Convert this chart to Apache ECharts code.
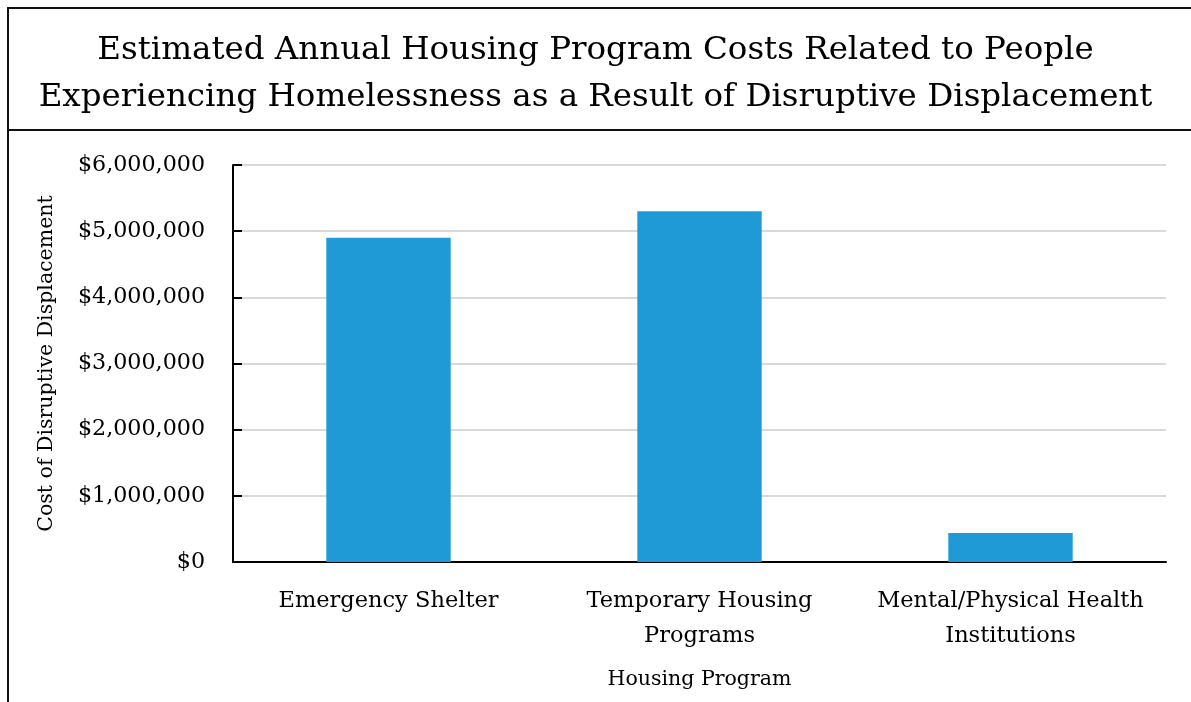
<!DOCTYPE html>
<html><head><meta charset="utf-8">
<script src="https://cdn.jsdelivr.net/npm/echarts@6/dist/echarts.min.js"></script>
<style>html,body{margin:0;padding:0;background:#fff}#c{width:1191px;height:702px}</style>
</head><body><div id="c"></div>
<script>
const titleLines = ['Estimated Annual Housing Program Costs Related to People', 'Experiencing Homelessness as a Result of Disruptive Displacement'];
const categories = ['Emergency Shelter', 'Temporary Housing\nPrograms', 'Mental/Physical Health\nInstitutions'];
const costs = [4900000, 5300000, 440000];
const yTicks = [0, 1000000, 2000000, 3000000, 4000000, 5000000, 6000000];
const yAxisName = 'Cost of Disruptive Displacement';
const xAxisName = 'Housing Program';

const FONT = 'DejaVu Serif';
const chart = echarts.init(document.getElementById('c'));
function money(v){ return '$' + String(v).replace(/\B(?=(\d{3})+(?!\d))/g, ','); }
chart.setOption({
  animation: false,
  textStyle: { fontFamily: FONT },
  title: {
    text: titleLines.join('\n'), left: 'center', top: 22,
    textStyle: { fontFamily: FONT, fontWeight: 'normal', fontSize: 32.5, color: '#000', lineHeight: 47 }
  },
  graphic: [
    { type: 'line', shape: { x1: 7, y1: 8, x2: 1191, y2: 8 }, style: { stroke: '#111', lineWidth: 2 } },
    { type: 'line', shape: { x1: 8, y1: 7, x2: 8, y2: 702 }, style: { stroke: '#111', lineWidth: 2 } },
    { type: 'line', shape: { x1: 7, y1: 130, x2: 1191, y2: 130 }, style: { stroke: '#111', lineWidth: 2 } }
  ],
  grid: { left: 233, right: 25, top: 165, bottom: 140 },
  xAxis: {
    type: 'category', data: categories,
    name: xAxisName, nameLocation: 'middle', nameGap: 107,
    nameTextStyle: { fontFamily: FONT, fontSize: 20.5, color: '#000' },
    axisLine: { lineStyle: { color: '#000', width: 2 } },
    axisTick: { show: false },
    axisLabel: { interval: 0, fontFamily: FONT, fontSize: 22.5, color: '#000', margin: 22, lineHeight: 35 }
  },
  yAxis: {
    type: 'value', min: yTicks[0], max: yTicks[yTicks.length - 1], interval: 1000000,
    name: yAxisName, nameLocation: 'middle', nameGap: 176, nameRotate: 90,
    nameTextStyle: { fontFamily: FONT, fontSize: 20.5, color: '#000' },
    axisLine: { show: true, lineStyle: { color: '#000', width: 2 } },
    axisTick: { show: true, inside: true, length: 9, lineStyle: { color: '#000', width: 2 } },
    axisLabel: { fontFamily: FONT, fontSize: 22.2, color: '#000', margin: 28, formatter: money },
    splitLine: { lineStyle: { color: '#d9d9d9', width: 2 } }
  },
  series: [{
    type: 'bar', data: costs, barWidth: '40%',
    itemStyle: { color: '#1f9ad6' }
  }]
});
</script></body></html>
